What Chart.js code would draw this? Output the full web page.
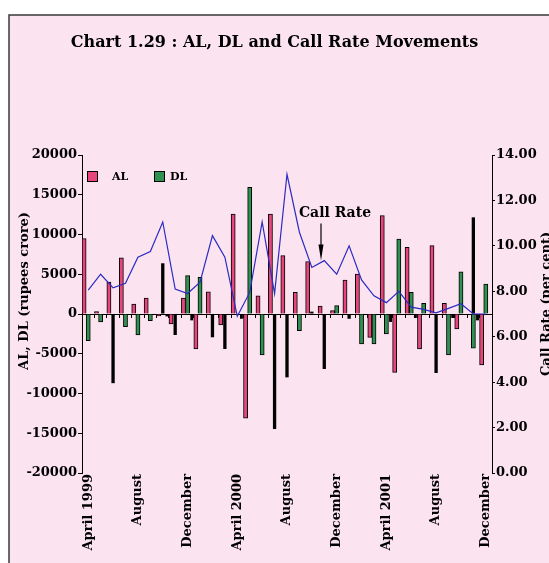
<!DOCTYPE html>
<html><head><meta charset="utf-8">
<script src="https://cdn.jsdelivr.net/npm/chart.js@4.4.0/dist/chart.umd.min.js"></script>
<style>html,body{margin:0;padding:0;background:#fff;overflow:hidden}</style>
</head><body>
<canvas id="c" width="549" height="563"></canvas>
<script>
const SERIF = "'DejaVu Serif', serif";

const months = ['April 1999','May 1999','June 1999','July 1999','August 1999','September 1999','October 1999','November 1999','December 1999','January 2000','February 2000','March 2000','April 2000','May 2000','June 2000','July 2000','August 2000','September 2000','October 2000','November 2000','December 2000','January 2001','February 2001','March 2001','April 2001','May 2001','June 2001','July 2001','August 2001','September 2001','October 2001','November 2001','December 2001'];
const tickLabels = ['April 1999','August','December','April 2000','August','December','April 2001','August','December'];
const tickStep = 4;

const alValues = [9500, 300, 4000, 7080, 1260, 2010, -250, -1260, 2010, -4400, 2800, -1380, 12570, -13100, 2300, 12580, 7340, 2730, 6600, 1000, 420, 4280, 5030, -2940, 12370, -7340, 8390, -4400, 8600, 1340, -1890, null, -6420];
const dlValues = [-3350, -1000, null, -1600, -2640, -840, null, null, 4820, 4600, null, null, null, 15920, -5160, null, null, -2100, null, null, 1050, null, -3770, -3770, -2510, 9430, 2730, 1340, null, -5160, 5320, -4300, 3770];
const blackMidValues = [null, null, -8700, null, null, null, 6380, -2640, null, null, -2930, -4400, null, null, null, -14470, -7970, null, 300, -6920, null, -600, null, null, null, null, null, null, -7420, null, null, 12160, null];
const blackEndValues = [null, null, null, null, null, null, -300, null, -800, null, null, null, -600, null, null, null, null, null, null, null, null, null, null, null, -1000, null, -500, null, null, -500, null, -800, null];
const callRate = [8.05, 8.75, 8.15, 8.35, 9.5, 9.75, 11.05, 8.1, 7.9, 8.4, 10.45, 9.5, 6.9, 7.95, 11.05, 7.9, 13.15, 10.6, 9.05, 9.35, 8.75, 10.0, 8.5, 7.8, 7.5, 8.0, 7.3, 7.2, 7.05, 7.25, 7.45, 7.0, 7.0];

const AL_COLOR = '#e6467c';
const DL_COLOR = '#2e9150';

const bgPlugin = {
  id: 'bg',
  beforeDraw(chart) {
    const ctx = chart.ctx;
    ctx.save();
    ctx.fillStyle = '#ffffff';
    ctx.fillRect(0, 0, chart.width, chart.height);
    ctx.fillStyle = '#fbe3f0';
    ctx.fillRect(9, 15, chart.width - 9, chart.height - 15);
    ctx.strokeStyle = '#3a3a3a';
    ctx.lineWidth = 1.5;
    ctx.beginPath();
    ctx.moveTo(9, chart.height);
    ctx.lineTo(9, 15);
    ctx.lineTo(chart.width, 15);
    ctx.stroke();
    ctx.restore();
  }
};

const notePlugin = {
  id: 'notes',
  afterDatasetsDraw(chart) {
    const {ctx, scales, chartArea} = chart;
    const midY = (chartArea.top + chartArea.bottom) / 2;
    ctx.save();
    ctx.fillStyle = '#000';
    ctx.textBaseline = 'middle';
    ctx.textAlign = 'center';
    // left axis title
    ctx.font = 'bold 13px ' + SERIF;
    ctx.save();
    ctx.translate(25, midY - 23);
    ctx.rotate(-Math.PI / 2);
    ctx.fillText('AL, DL (rupees crore)', 0, 0);
    ctx.restore();
    // right axis title
    ctx.save();
    ctx.translate(chart.width - 2, midY - 10);
    ctx.rotate(-Math.PI / 2);
    ctx.fillText('Call Rate (per cent)', 0, 0);
    ctx.restore();
    // legend (AL, DL)
    const items = [{ds: chart.data.datasets[1], dx: 5, tx: 25}, {ds: chart.data.datasets[2], dx: 72, tx: 16}];
    ctx.font = 'bold 11px ' + SERIF;
    ctx.textAlign = 'left';
    items.forEach(it => {
      const bx = chartArea.left + it.dx, by = chartArea.top + 16;
      ctx.fillStyle = it.ds.backgroundColor;
      ctx.fillRect(bx, by, 11, 11);
      ctx.strokeStyle = '#000';
      ctx.lineWidth = 1;
      ctx.strokeRect(bx + 0.5, by + 0.5, 10, 10);
      ctx.fillStyle = '#000';
      ctx.fillText(it.ds.label, bx + it.tx, by + 6);
    });
    // Call Rate annotation with arrow
    const idx = 19;
    const px = Math.round(scales.x.getPixelForValue(idx)) - 3;
    const tip = scales.y1.getPixelForValue(callRate[idx]);
    ctx.strokeStyle = '#000';
    ctx.lineWidth = 1.2;
    ctx.beginPath();
    ctx.moveTo(px, tip - 37);
    ctx.lineTo(px, tip - 14);
    ctx.stroke();
    ctx.beginPath();
    ctx.moveTo(px - 2.5, tip - 16);
    ctx.lineTo(px + 2.5, tip - 16);
    ctx.lineTo(px, tip);
    ctx.closePath();
    ctx.fill();
    ctx.font = 'bold 14px ' + SERIF;
    ctx.textAlign = 'center';
    ctx.fillText('Call Rate', px + 14, tip - 47);
    ctx.restore();
  }
};

const tickFont = {family: SERIF, weight: 'bold', size: 13};

new Chart(document.getElementById('c'), {
  data: {
    labels: months,
    datasets: [
      {type: 'line', label: 'Call Rate', data: callRate, yAxisID: 'y1', xAxisID: 'x', borderColor: '#2b2bc4', borderWidth: 1.2, pointRadius: 0, tension: 0, fill: false, order: 0},
      {type: 'bar', label: 'AL', data: alValues, yAxisID: 'y', xAxisID: 'x', stack: 'a', backgroundColor: AL_COLOR, borderColor: '#000', borderWidth: 1, barPercentage: 1, categoryPercentage: 1, order: 1},
      {type: 'bar', label: 'DL', data: dlValues, yAxisID: 'y', xAxisID: 'x', stack: 'b', backgroundColor: DL_COLOR, borderColor: '#000', borderWidth: 1, barPercentage: 1, categoryPercentage: 1, order: 1},
      {type: 'bar', label: 'other', data: blackMidValues, yAxisID: 'y', xAxisID: 'x', stack: 'b', backgroundColor: '#000', borderColor: '#000', borderWidth: 0, barPercentage: 0.8, categoryPercentage: 1, order: 1},
      {type: 'bar', label: 'other2', data: blackEndValues, yAxisID: 'y', xAxisID: 'x', stack: 'c', backgroundColor: '#000', borderColor: '#000', borderWidth: 0, barPercentage: 0.7, categoryPercentage: 1, order: 1}
    ]
  },
  options: {
    responsive: false,
    animation: false,
    layout: {padding: 0},
    plugins: {
      legend: {display: false},
      tooltip: {enabled: false},
      title: {
        display: true,
        text: 'Chart 1.29 : AL, DL and Call Rate Movements',
        color: '#000',
        font: {family: SERIF, weight: 'bold', size: 16},
        padding: {top: 33, bottom: 102.8}
      }
    },
    scales: {
      x: {
        type: 'category', position: 'bottom', offset: true, stacked: true,
        grid: {display: false, drawTicks: false},
        border: {display: false},
        ticks: {
          autoSkip: false, maxRotation: 90, minRotation: 90, padding: 1, color: '#000',
          font: {family: SERIF, weight: 'bold', size: 13},
          callback: (v, i) => (i % tickStep === 0 ? tickLabels[i / tickStep] : '')
        },
        afterFit: s => { s.height = 90; }
      },
      x2: {
        type: 'category', labels: months, position: {y: 0}, offset: true,
        grid: {offset: true, drawOnChartArea: false, drawTicks: true, tickLength: 3, color: '#000', lineWidth: 1},
        border: {display: true, color: '#000', width: 1},
        ticks: {display: false}
      },
      y: {
        type: 'linear', position: 'left', min: -20000, max: 20000,
        ticks: {stepSize: 5000, color: '#000', padding: 1, font: tickFont, callback: v => String(v)},
        grid: {drawOnChartArea: false, tickLength: 4, color: '#000'},
        border: {display: true, color: '#000', width: 1},
        afterFit: s => { s.width = 82; }
      },
      y1: {
        type: 'linear', position: 'right', min: 0, max: 14,
        ticks: {stepSize: 2, color: '#000', padding: 1, font: tickFont, callback: v => Number(v).toFixed(2)},
        grid: {drawOnChartArea: false, tickLength: 3, color: '#000'},
        border: {display: true, color: '#000', width: 1},
        afterFit: s => { s.width = 57; }
      }
    }
  },
  plugins: [bgPlugin, notePlugin]
});
</script>
</body></html>
